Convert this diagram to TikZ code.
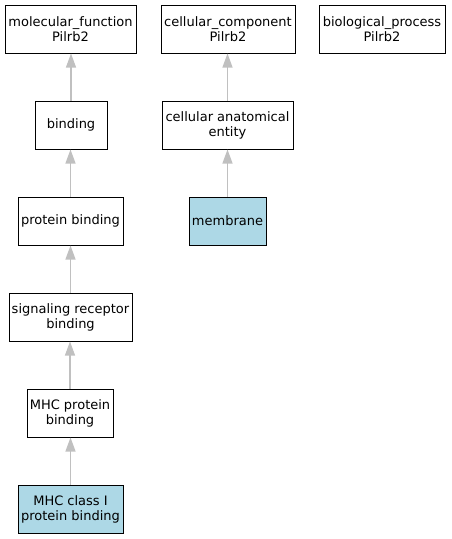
\documentclass[tikz,border=0pt]{standalone}
\usepackage{fontspec}
\setmainfont{DejaVu Sans}
\usetikzlibrary{arrows.meta}
\definecolor{nodeblue}{HTML}{ADD8E6}
\definecolor{edgegray}{HTML}{C0C0C0}
\begin{document}
\begin{tikzpicture}[x=1pt,y=-1pt,
  term/.style={draw=black, line width=1pt, align=center, inner sep=0pt,
    font=\fontsize{13}{15}\selectfont, minimum height=48pt},
  hit/.style={term, fill=nodeblue},
  isa/.style={draw=edgegray, line width=1.2pt, -{Triangle[length=14pt,width=10pt,fill=edgegray]}}]
\useasboundingbox (0,0) rectangle (451,539);
\node[term, minimum width=131pt] (mf) at (70.5,29) {molecular\_function\\Pilrb2};
\node[term, minimum width=134pt] (cc) at (228,29) {cellular\_component\\Pilrb2};
\node[term, minimum width=126pt] (bp) at (382,29) {biological\_process\\Pilrb2};
\node[term, minimum width=72pt] (bind) at (71,125) {binding};
\node[term, minimum width=131pt] (cae) at (227.5,125) {cellular anatomical\\entity};
\node[term, minimum width=105pt] (pb) at (70.5,221) {protein binding};
\node[hit, minimum width=77pt] (mem) at (227.5,221) {membrane};
\node[term, minimum width=123pt] (srb) at (70.5,317) {signaling receptor\\binding};
\node[term, minimum width=86pt] (mhc) at (70,413) {MHC protein\\binding};
\node[hit, minimum width=105pt] (mhc1) at (70.5,509) {MHC class I\\protein binding};
\draw[isa] (bind.north) -- (bind.north |- mf.south);
\draw[isa] (pb.north) -- (pb.north |- bind.south);
\draw[isa] (srb.north) -- (srb.north |- pb.south);
\draw[isa] (mhc.north) -- (mhc.north |- srb.south);
\draw[isa] (mhc1.north) -- (mhc1.north |- mhc.south);
\draw[isa] (cae.north) -- (cae.north |- cc.south);
\draw[isa] (mem.north) -- (mem.north |- cae.south);
\end{tikzpicture}
\end{document}
